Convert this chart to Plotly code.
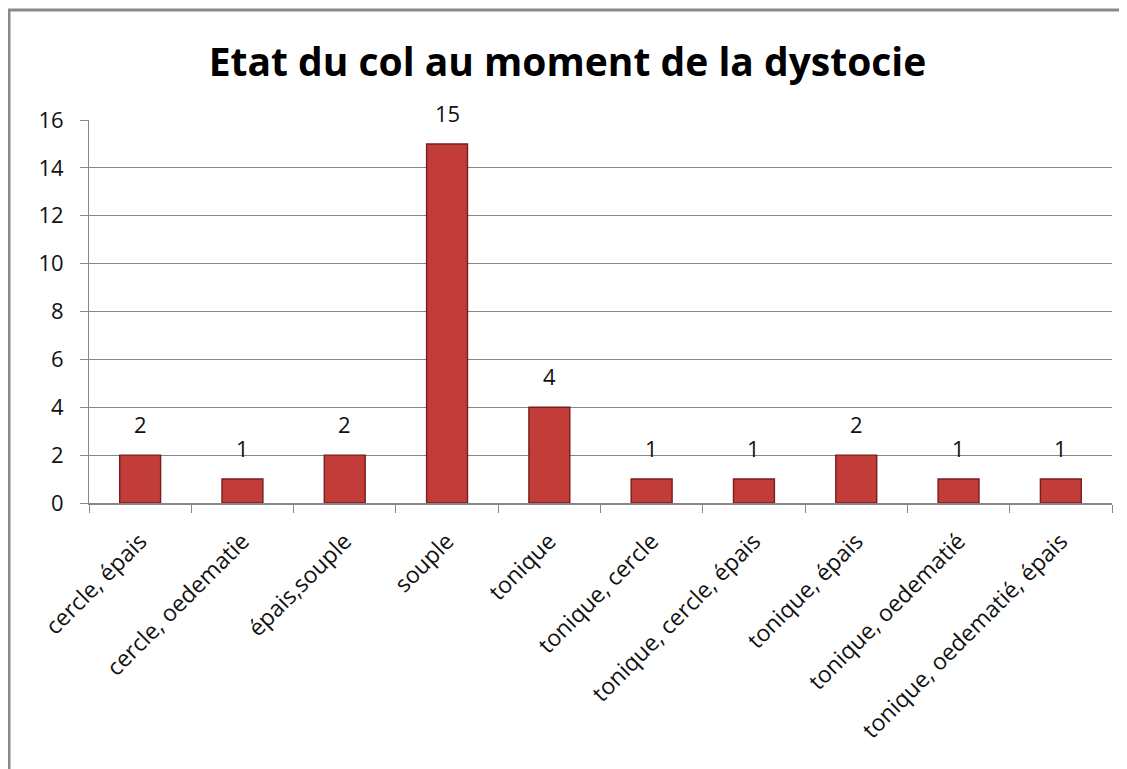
import plotly.graph_objects as go

# état du col au moment de la dystocie
categories = [
    "cercle, épais",
    "cercle, oedematie",
    "épais,souple",
    "souple",
    "tonique",
    "tonique, cercle",
    "tonique, cercle, épais",
    "tonique, épais",
    "tonique, oedematié",
    "tonique, oedematié, épais",
]
counts = [2, 1, 2, 15, 4, 1, 1, 2, 1, 1]

GRID = "#868686"
FONT = "Open Sans"

fig = go.Figure()
fig.add_trace(go.Bar(
    x=categories,
    y=counts,
    width=0.4,
    marker=dict(color="#C23C3A", line=dict(color="#7A1D1D", width=1.4)),
))

# value labels above each bar, a bit further up than plotly's default
for cat, val in zip(categories, counts):
    fig.add_annotation(
        x=cat, y=val, text=str(val), showarrow=False,
        yanchor="bottom", yshift=14,
        font=dict(size=22, color="#111", family=FONT),
    )

fig.update_layout(
    width=1119,
    height=761,
    margin=dict(l=81, r=15, t=112, b=266),
    paper_bgcolor="white",
    plot_bgcolor="white",
    showlegend=False,
    font=dict(family=FONT, size=22, color="#111"),
    title=dict(
        text="<b>Etat du col au moment de la dystocie</b>",
        x=0.5, xanchor="center",
        y=1 - 54 / 761, yanchor="middle",
        font=dict(size=39, color="black", family=FONT),
    ),
)

fig.update_xaxes(
    type="category",
    tickangle=-45,
    tickson="boundaries",
    ticks="outside",
    ticklen=8,
    tickcolor=GRID,
    ticklabelstandoff=14,
    showline=True,
    linecolor=GRID,
    linewidth=1.5,
    showgrid=False,
    tickfont=dict(size=23, family=FONT),
)
fig.update_yaxes(
    range=[0, 16],
    dtick=2,
    ticks="outside",
    ticklen=8,
    tickcolor=GRID,
    ticklabelstandoff=12,
    showline=True,
    linecolor=GRID,
    linewidth=1,
    showgrid=True,
    gridcolor=GRID,
    gridwidth=1.2,
    zeroline=False,
    tickfont=dict(size=22, family=FONT),
)

# outer chart frame (left and top edges visible in the picture)
fig.add_shape(
    type="rect", xref="paper", yref="paper",
    x0=-80 / 1023, x1=1.02, y0=-0.72, y1=(503 - 10) / 383,
    line=dict(color="#8a8a8a", width=3), layer="below",
)

fig.write_html("out.html")
